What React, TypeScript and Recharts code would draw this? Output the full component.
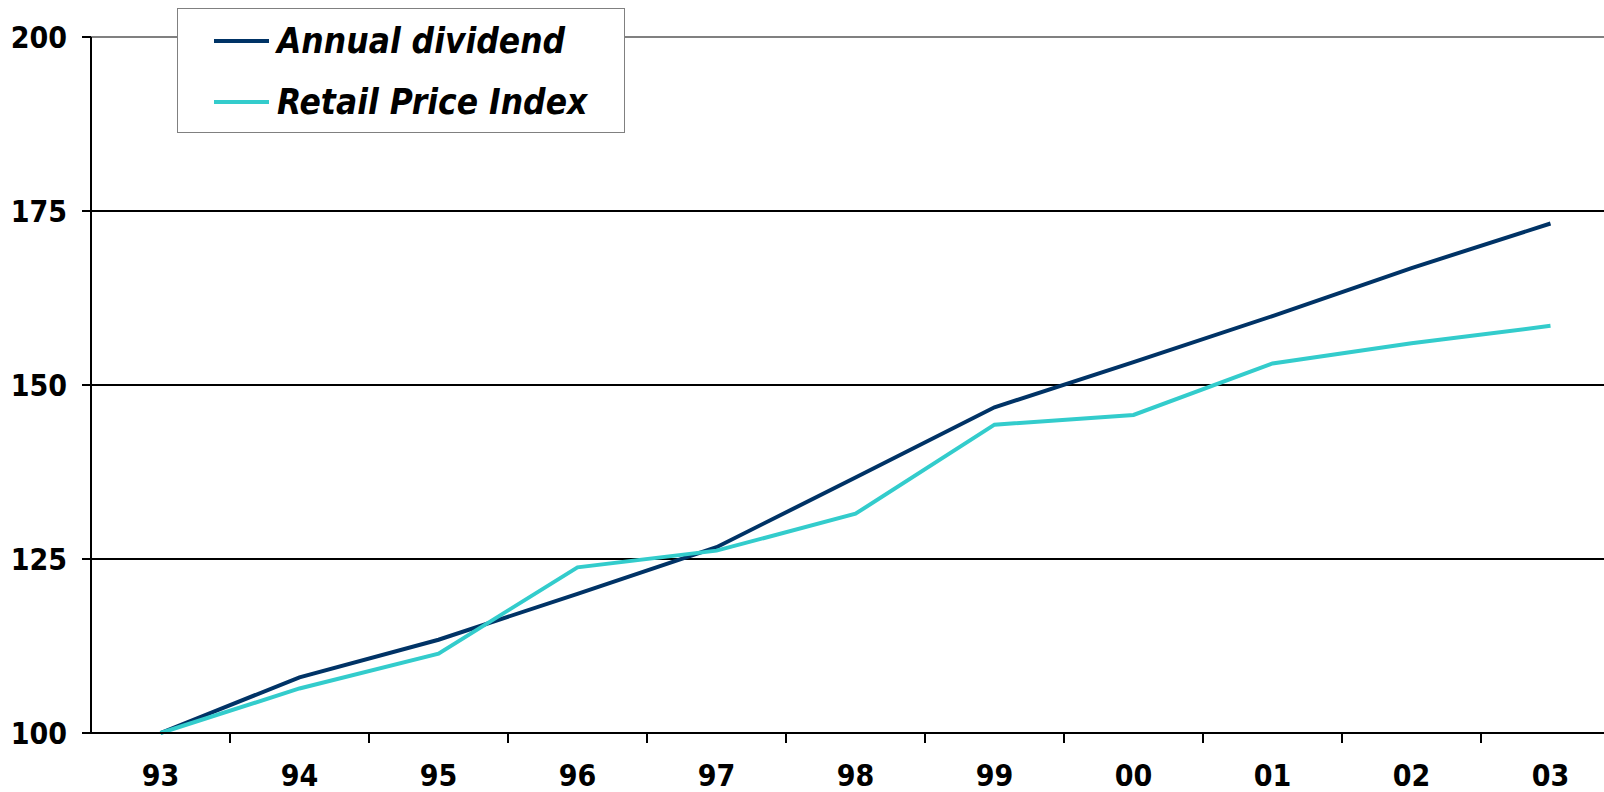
import React from "react";
import {
  LineChart,
  Line,
  XAxis,
  YAxis,
  CartesianGrid,
  ReferenceLine,
  Legend,
} from "recharts";

const years = ["93", "94", "95", "96", "97", "98", "99", "00", "01", "02", "03"];
const annualDividend = [100, 108.0, 113.4, 120.0, 126.7, 136.7, 146.8, 153.3, 159.9, 166.8, 173.2];
const retailPriceIndex = [100, 106.4, 111.4, 123.8, 126.2, 131.5, 144.3, 145.7, 153.1, 156.0, 158.5];
const yTicks = [100, 125, 150, 175, 200];

const series = [
  { key: "dividend", name: "Annual dividend", color: "#003366" },
  { key: "rpi", name: "Retail Price Index", color: "#33cccc" },
];

const data = years.map((year, i) => ({
  idx: i,
  year,
  dividend: annualDividend[i],
  rpi: retailPriceIndex[i],
}));

const labelTicks = years.map((_, i) => i);
const boundaryTicks = years.map((_, i) => i + 0.5);

const font = '"DejaVu Sans Condensed", "DejaVu Sans", sans-serif';
const tickStyle = { fontFamily: font, fontWeight: 700, fontSize: 30, fill: "#000" };

const renderLegend = () => (
  <div
    style={{
      width: 446,
      height: 123,
      border: "1px solid #808080",
      background: "#fff",
      boxSizing: "content-box",
      position: "relative",
    }}
  >
    {series.map((s, i) => (
      <div
        key={s.key}
        style={{
          position: "absolute",
          left: 36,
          top: 12 + i * 61,
          display: "flex",
          alignItems: "center",
          height: 40,
        }}
      >
        <div style={{ width: 55, height: 3.5, background: s.color }} />
        <span
          style={{
            marginLeft: 8,
            fontFamily: font,
            fontWeight: 700,
            fontStyle: "italic",
            fontSize: 35,
            color: "#000",
            whiteSpace: "nowrap",
          }}
        >
          {s.name}
        </span>
      </div>
    ))}
  </div>
);

export default function App() {
  return (
    <div
      style={{
        position: "absolute",
        left: 0,
        top: 0,
        width: 1604,
        height: 792,
        overflow: "hidden",
        background: "#fff",
      }}
    >
      <LineChart
        width={1620}
        height={792}
        data={data}
        margin={{ top: 37, right: 0, bottom: 57, left: 0 }}
      >
        <CartesianGrid
          vertical={false}
          horizontalValues={[125, 150, 175]}
          stroke="#000"
          strokeWidth={2}
        />
        <ReferenceLine y={200} stroke="#808080" strokeWidth={2} />
        <XAxis
          dataKey="idx"
          type="number"
          domain={[-0.5, 10.5]}
          ticks={boundaryTicks}
          tickFormatter={() => ""}
          height={1}
          tickSize={10}
          axisLine={{ stroke: "#000", strokeWidth: 2 }}
          tickLine={{ stroke: "#000", strokeWidth: 2 }}
          interval={0}
        />
        <XAxis
          xAxisId="labels"
          dataKey="idx"
          type="number"
          domain={[-0.5, 10.5]}
          ticks={labelTicks}
          tickFormatter={(v: number) => years[v]}
          height={1}
          tickSize={0}
          tickMargin={31}
          axisLine={false}
          tickLine={false}
          tick={tickStyle}
          interval={0}
        />
        <YAxis
          domain={[100, 200]}
          ticks={yTicks}
          width={91}
          tickSize={9}
          tickMargin={15}
          tick={tickStyle}
          axisLine={{ stroke: "#000", strokeWidth: 2 }}
          tickLine={{ stroke: "#000", strokeWidth: 2 }}
          interval={0}
        />
        <Legend
          layout="vertical"
          align="center"
          verticalAlign="middle"
          wrapperStyle={{ left: 177, top: 8, width: 448 }}
          content={renderLegend}
        />
        {series.map((s) => (
          <Line
            key={s.key}
            dataKey={s.key}
            name={s.name}
            stroke={s.color}
            strokeWidth={4}
            dot={false}
            activeDot={false}
            type="linear"
            isAnimationActive={false}
          />
        ))}
      </LineChart>
    </div>
  );
}
